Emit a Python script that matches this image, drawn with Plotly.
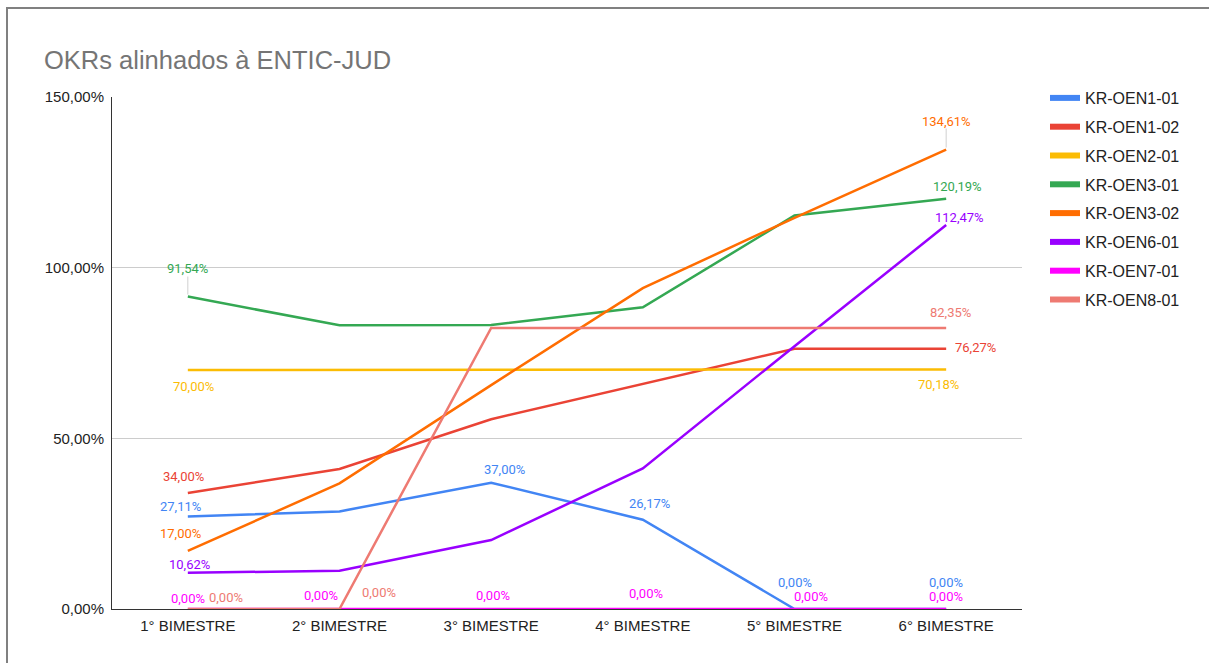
import plotly.graph_objects as go

# ---------------- data ----------------
categories = ["1° BIMESTRE", "2° BIMESTRE", "3° BIMESTRE",
              "4° BIMESTRE", "5° BIMESTRE", "6° BIMESTRE"]

series_names = ["KR-OEN1-01", "KR-OEN1-02", "KR-OEN2-01", "KR-OEN3-01",
                "KR-OEN3-02", "KR-OEN6-01", "KR-OEN7-01", "KR-OEN8-01"]

kr_oen1_01 = [27.11, 28.6, 37.00, 26.17, 0.00, 0.00]
kr_oen1_02 = [34.00, 41.0, 55.6, 66.0, 76.27, 76.27]
kr_oen2_01 = [70.00, 70.10, 70.18, 70.18, 70.18, 70.18]
kr_oen3_01 = [91.54, 83.1, 83.2, 88.4, 115.3, 120.19]
kr_oen3_02 = [17.00, 36.8, 65.6, 94.0, 114.6, 134.61]
kr_oen6_01 = [10.62, 11.2, 20.2, 41.2, 77.0, 112.47]
kr_oen7_01 = [0.00, 0.00, 0.00, 0.00, 0.00, 0.00]
kr_oen8_01 = [0.00, 0.00, 82.35, 82.35, 82.35, 82.35]

y_ticks = [0, 50, 100, 150]

series_values = [kr_oen1_01, kr_oen1_02, kr_oen2_01, kr_oen3_01,
                 kr_oen3_02, kr_oen6_01, kr_oen7_01, kr_oen8_01]

# ---------------- styling ----------------
colors = ["#4285F4", "#EA4335", "#FBBC04", "#34A853",
          "#FF6D01", "#9900FF", "#FF00FF", "#EE7A72"]

# data labels: (series index, category index, xshift px, yshift px)
label_offsets = [
    (0, 0, -7, 10), (0, 2, 13, 13), (0, 3, 7, 16), (0, 4, 0, 27), (0, 5, 0, 27),
    (1, 0, -4, 16), (1, 5, 29, 1),
    (2, 0, 6, -16), (2, 5, -8, -15),
    (3, 0, 0, 28), (3, 5, 11, 12),
    (4, 0, -7, 17), (4, 5, 0, 28),
    (5, 0, 2, 8.5), (5, 5, 13, 8),
    (6, 0, 0, 11), (6, 1, -19, 14), (6, 2, 2, 14), (6, 3, 3, 16), (6, 4, 16, 13), (6, 5, 0, 13),
    (7, 0, 38, 12), (7, 1, 39, 17), (7, 5, 4, 15),
]
# leader lines: (series index, category index, from px, to px above point)
leaders = [(3, 0, 2, 20), (4, 5, 2, 21)]


def fmt(v):
    return f"{v:.2f}".replace(".", ",") + "%"


fig = go.Figure()
for name, vals, color in zip(series_names, series_values, colors):
    fig.add_trace(go.Scatter(
        x=categories, y=vals, mode="lines", name=name,
        line=dict(color=color, width=2.5), legendgroup=name,
        showlegend=False, hovertemplate="%{y:.2f}%<extra>" + name + "</extra>"))
    fig.add_trace(go.Scatter(
        x=[None], y=[None], mode="lines", name=name,
        line=dict(color=color, width=6), legendgroup=name, showlegend=True,
        hoverinfo="skip"))

for si, ci, dx, dy in label_offsets:
    v = series_values[si][ci]
    fig.add_annotation(
        x=categories[ci], y=v, xref="x", yref="y", text=fmt(v),
        showarrow=False, xshift=dx, yshift=dy,
        font=dict(family="Roboto", size=13, color=colors[si]))

shapes = []
for si, ci, p0, p1 in leaders:
    shapes.append(dict(
        type="line", xref="x", yref="y", x0=categories[ci], x1=categories[ci],
        ysizemode="pixel", yanchor=series_values[si][ci], y0=p0, y1=p1,
        line=dict(color="#D0D0D0", width=1)))

# outer frame (left and top edges)
L, T, PW, PH = 112, 97, 910, 512
def px_x(px):
    return (px - L) / PW
def px_y(py):
    return (T + PH - py) / PH
shapes.append(dict(type="line", xref="paper", yref="paper",
                   x0=px_x(7), x1=px_x(7), y0=px_y(7), y1=px_y(663),
                   line=dict(color="#808080", width=2)))
shapes.append(dict(type="line", xref="paper", yref="paper",
                   x0=px_x(7), x1=px_x(1209), y0=px_y(8), y1=px_y(8),
                   line=dict(color="#808080", width=2)))

fig.update_layout(
    width=1209, height=663,
    margin=dict(l=L, r=1209 - L - PW, t=T, b=663 - T - PH),
    paper_bgcolor="white", plot_bgcolor="white",
    separators=",.",
    font=dict(family="Liberation Sans, Arial", size=15, color="#222222"),
    title=dict(text="OKRs alinhados à ENTIC-JUD", x=44 / 1209, xanchor="left",
               xref="container", yref="container", y=1 - 60 / 663, yanchor="middle",
               font=dict(family="Liberation Sans, Arial", size=25.5, color="#757575")),
    showlegend=True,
    legend=dict(x=px_x(1045), y=px_y(81), xanchor="left", yanchor="top",
                traceorder="grouped", tracegroupgap=5,
                font=dict(family="Liberation Sans, Arial", size=16, color="#222222"),
                bgcolor="rgba(0,0,0,0)"),
    shapes=shapes,
    xaxis=dict(type="category", categoryorder="array", categoryarray=categories,
               range=[-0.5, 5.5], showgrid=False, showline=True, linecolor="#333333",
               linewidth=1, ticks="", ticklabelstandoff=3, zeroline=False,
               tickfont=dict(size=15, color="#222222")),
    yaxis=dict(range=[0, 150], tickvals=y_ticks, ticktext=[fmt(t) for t in y_ticks],
               showgrid=True, gridcolor="#CCCCCC", gridwidth=1, showline=True,
               linecolor="#333333", linewidth=1, zeroline=False, ticks="",
               ticklabelstandoff=4, tickfont=dict(size=15, color="#222222")),
)

fig.write_html("out.html", config={"displayModeBar": False},
               post_script="document.body.style.margin='0';")
